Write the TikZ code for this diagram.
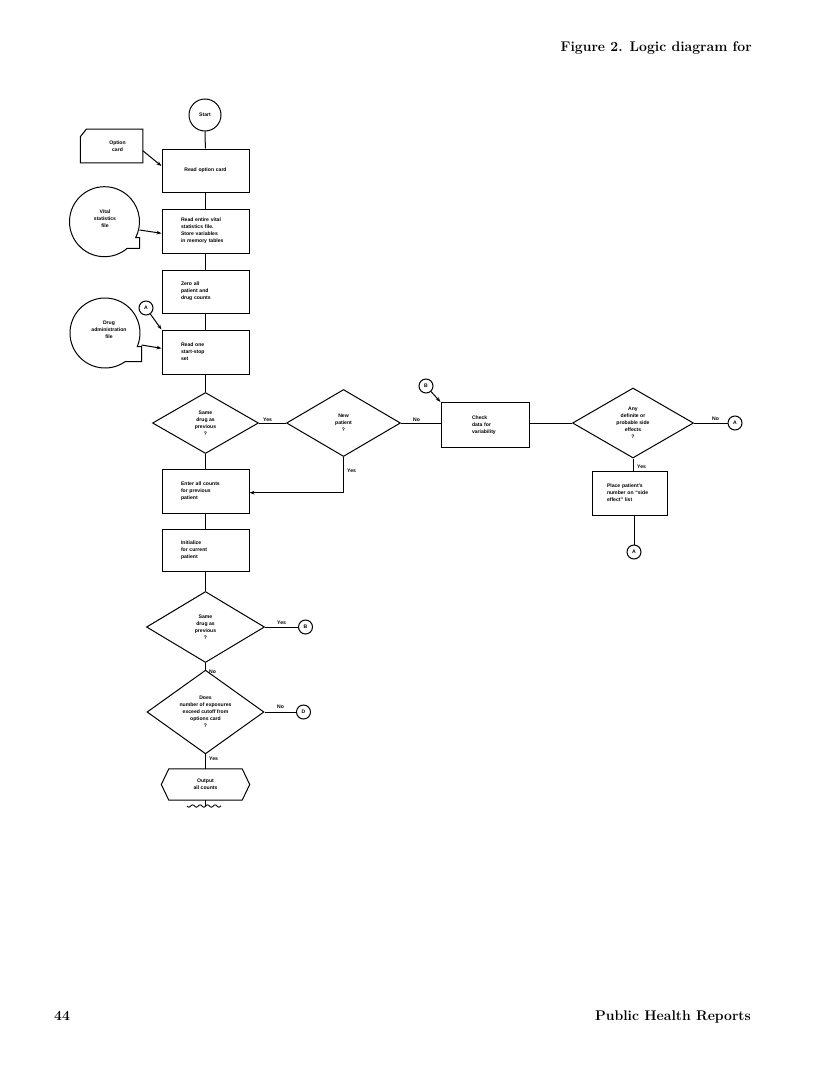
\documentclass[tikz,border=0pt]{standalone}
\usepackage{fontspec}
\setsansfont{Liberation Sans}
\usetikzlibrary{shapes.geometric,arrows.meta,calc}
\begin{document}
\begin{tikzpicture}[x=1pt,y=-1pt,
  every node/.style={font=\sffamily\bfseries\fontsize{5.1}{7.1}\selectfont},
  ln/.style={line width=1pt},
  box/.style={draw,line width=1pt,rectangle,minimum width=87pt,minimum height=43pt,inner xsep=19pt,inner ysep=0pt,text width=49pt,align=left},
  dia/.style={draw,line width=1pt,diamond,inner sep=0pt,align=center},
  conn/.style={draw,line width=1pt,circle,inner sep=0pt,minimum size=14pt},
  lab/.style={inner sep=0pt,anchor=base west},
  arr/.style={-{Stealth[length=5pt,width=3.6pt]}},
  serif/.style={font=\rmfamily\bfseries\fontsize{14}{16}\selectfont,inner sep=0pt},
]
\useasboundingbox[fill=white] (0,0) rectangle (816,1081);

% header / footer
\node[serif,anchor=base east] (title) at (752,52) {Figure 2. Logic diagram for};
\node[serif,anchor=base west] (pg) at (54,1020) {44};
\node[serif,anchor=base east] (journal) at (751,1020) {Public Health Reports};

% main column
\node[conn,minimum size=32pt] (start) at (205,115) {Start};
\node[box,text width=62pt,inner xsep=12.5pt,align=center] (b1) at (205.5,170.5) {Read option card};
\node[box,minimum height=44pt] (b2) at (205.5,231) {Read entire vital\\statistics file.\\Store variables\\in memory tables};
\node[box] (b3) at (205.5,291.5) {Zero all\\patient and\\drug counts};
\node[box,minimum height=44pt] (b4) at (205.5,352) {Read one\\start-stop\\set};
\node[dia,minimum width=106pt,minimum height=61pt] (d1) at (205.5,423) {Same\\drug as\\previous\\?};
\node[dia,minimum width=114pt,minimum height=67pt] (d2) at (343.5,423) {New\\patient\\?};
\node[box,minimum height=45pt,minimum width=88pt,inner xsep=31pt,text width=26pt] (chk) at (485,425) {Check\\data for\\variability};
\node[dia,minimum width=121pt,minimum height=70pt] (d5) at (633,423) {Any\\definite or\\probable side\\effects\\?};
\node[conn] (a1) at (735,423) {A};
\node[box,minimum width=75pt,minimum height=44pt,inner xsep=14.5pt,text width=46pt] (place) at (630,493) {Place patient’s\\number on “side\\effect” list};
\node[conn] (a2) at (634,552) {A};
\node[box,minimum height=44pt] (enter) at (205.5,491) {Enter all counts\\for previous\\patient};
\node[box,minimum height=42pt] (init) at (205.5,550) {Initialize\\for current\\patient};
\node[dia,minimum width=118pt,minimum height=71pt] (d3) at (205.5,627) {Same\\drug as\\previous\\?};
\node[conn] (bb) at (305.5,627) {B};
\node[dia,minimum width=117pt,minimum height=66pt] (d4) at (205.5,712) {Does\\number of exposures\\exceed cutoff from\\options card\\?};
\node[conn] (dd) at (303.5,712) {D};
\node[inner sep=0pt,minimum width=73pt,minimum height=31pt,align=center] (out) at (205.5,784.5) {Output\\all counts};
\draw[ln] ($(out.west)+(-7.5,0)$) -- (out.north west) -- (out.north east) -- ($(out.east)+(7.5,0)$) -- (out.south east) -- (out.south west) -- cycle;
\coordinate (brk) at (205.5,806);
\draw[ln] (out.south) -- (brk);
\draw[line width=0.9pt] plot[domain=187:221,samples=120,smooth] (\x,{806+1.1*sin(48*(\x-187))});

% left inputs
\node[inner sep=0pt,minimum width=62pt,minimum height=33.4pt] (opt) at (111.6,146) {};
\draw[ln] (opt.south west) -- ($(opt.north west)+(0,7.5)$) -- ($(opt.north west)+(6,0)$) -- (opt.north east) -- (opt.south east) -- cycle;
\node[align=center] (opttxt) at (117.5,146) {Option\\card};

\coordinate (vital) at (104.5,221.7);
\draw[ln] ($(vital)+(49.5:35)$) arc[start angle=49.5,end angle=387,radius=35] -- ($(vital)+(35,{35*sin(27)})$) -- ($(vital)+(35,{35*sin(49.5)})$) -- cycle;
\node[align=center] (vitaltxt) at (105,219) {Vital\\statistics\\file};

\coordinate (drug) at (105,333);
\draw[ln] ($(drug)+(55:35)$) arc[start angle=55,end angle=383,radius=35] -- ($(drug)+(36.5,{35*sin(23)})$) -- ($(drug)+(36.5,{35*sin(55)})$) -- cycle;
\node[align=center] (drugtxt) at (109,330) {Drug\\administration\\file};

\node[conn] (aL) at (146,308) {A};
\node[conn] (bR) at (426,386) {B};

% connectors
\draw[ln] (start) -- (b1);
\draw[ln,arr] ($(opt.east)+(0,4.7)$) -- ($(b1.west)+(0,-4.5)$);
\draw[ln] (b1) -- (b2);
\draw[ln,arr] ($(vital)+(35,8.3)$) -- ($(b2.west)+(0,2.3)$);
\draw[ln] (b2) -- (b3);
\draw[ln] (b3) -- (b4);
\draw[ln,arr] (aL) -- (b4.north west);
\draw[ln,arr] ($(drug)+(36.5,12)$) -- ($(b4.west)+(0,-3.7)$);
\draw[ln] (b4) -- (d1);
\draw[ln] (d1.east) -- (d2.west);
\draw[ln] (d2.east) -- (d2.east -| chk.west);
\draw[ln,arr] (d2.south) |- ($(enter.east)+(0,1.7)$);
\draw[ln] (d1.south) -- (enter.north);
\draw[ln,arr] (bR) -- (chk.north west);
\draw[ln] (d5.west -| chk.east) -- (d5.west);
\draw[ln] (d5.east) -- (a1);
\draw[ln] (d5.south) -- (d5.south |- place.north);
\draw[ln] (a2 |- place.south) -- (a2);
\draw[ln] (enter) -- (init);
\draw[ln] (init) -- (d3);
\draw[ln] (d3.east) -- (bb);
\draw[ln] (d3.south) -- (d4.north);
\draw[ln] (d4.east) -- (dd);
\draw[ln] (d4.south) -- (out.north);

% labels
\node[lab] (l1) at (263,421) {Yes};
\node[lab] (l2) at (413,421) {No};
\node[lab] (l3) at (347,472) {Yes};
\node[lab] (l4) at (277,624.5) {Yes};
\node[lab] (l5) at (209,673.5) {No};
\node[lab] (l6) at (277,708.5) {No};
\node[lab] (l7) at (209,760) {Yes};
\node[lab] (l8) at (712,420) {No};
\node[lab] (l9) at (637,468.5) {Yes};
\end{tikzpicture}
\end{document}
